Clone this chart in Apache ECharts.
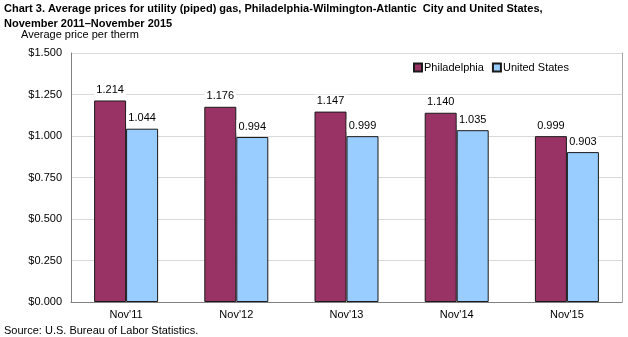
<!DOCTYPE html>
<html><head><meta charset="utf-8">
<script src="https://cdn.jsdelivr.net/npm/echarts@6/dist/echarts.min.js"></script>
<style>html,body{margin:0;padding:0;background:#fff}#c{width:628px;height:337px}</style>
</head><body><div id="c"></div>
<script>
const categories = ["Nov'11", "Nov'12", "Nov'13", "Nov'14", "Nov'15"];
const philadelphia = [1.214, 1.176, 1.147, 1.140, 0.999];
const unitedStates = [1.044, 0.994, 0.999, 1.035, 0.903];
const yTicks = [0, 0.25, 0.5, 0.75, 1.0, 1.25, 1.5];

const chart = echarts.init(document.getElementById('c'), null, {renderer: 'canvas'});
const font = 'Arial, "Liberation Sans", sans-serif';
const lbl = {
  show: true, position: 'top', distance: 4,
  formatter: p => p.value.toFixed(3),
  color: '#000', fontSize: 11, fontFamily: font,
  backgroundColor: '#fff', padding: [1, 2]
};
chart.setOption({
  animation: false,
  textStyle: {fontFamily: font},
  title: [
    {text: 'Chart 3. Average prices for utility (piped) gas, Philadelphia-Wilmington-Atlantic  City and United States,\nNovember 2011\u2013November 2015',
     left: 4, top: 1, padding: 0, textStyle: {fontSize: 11, fontWeight: 'bold', color: '#000', lineHeight: 15, fontFamily: font}},
    {text: 'Average price per therm', left: 21, top: 29, padding: 0, textStyle: {fontSize: 11, fontWeight: 'normal', color: '#000', fontFamily: font}},
    {text: 'Source: U.S. Bureau of Labor Statistics.', left: 4, top: 325, padding: 0, textStyle: {fontSize: 11, fontWeight: 'normal', color: '#000', fontFamily: font}}
  ],
  legend: {
    data: ['Philadelphia', 'United States'], left: 408, top: 57,
    itemWidth: 8, itemHeight: 8, itemGap: 8,
    textStyle: {fontSize: 11, color: '#000', fontFamily: font, padding: [0, 0, 0, -3]},
    icon: 'rect'
  },
  grid: {left: 71, right: 6, top: 53, bottom: 35, containLabel: false},
  xAxis: {
    type: 'category', data: categories,
    axisLine: {lineStyle: {color: '#808080'}}, axisTick: {show: false},
    axisLabel: {color: '#000', fontSize: 11, margin: 7, fontFamily: font}
  },
  yAxis: [{
    type: 'value', min: 0, max: 1.5, interval: 0.25,
    axisLine: {show: true, lineStyle: {color: '#808080'}}, axisTick: {show: false},
    axisLabel: {color: '#000', fontSize: 11, margin: 9, fontFamily: font, formatter: v => '$' + v.toFixed(3)},
    splitLine: {lineStyle: {color: '#d9d9d9', width: 1}}
  }, {
    type: 'value', min: 0, max: 1.5, interval: 0.25, position: 'right',
    axisLine: {show: true, lineStyle: {color: '#a6a6a6'}}, axisTick: {show: false},
    axisLabel: {show: false}, splitLine: {show: false}
  }],
  series: [
    {name: 'Philadelphia', type: 'bar', data: philadelphia, barWidth: 32, barGap: '0%',
     itemStyle: {color: '#993366', borderColor: '#1a1a1a', borderWidth: 1}, label: lbl},
    {name: 'United States', type: 'bar', data: unitedStates, barWidth: 32,
     itemStyle: {color: '#99ccff', borderColor: '#1a1a1a', borderWidth: 1}, label: lbl}
  ]
});
</script></body></html>
